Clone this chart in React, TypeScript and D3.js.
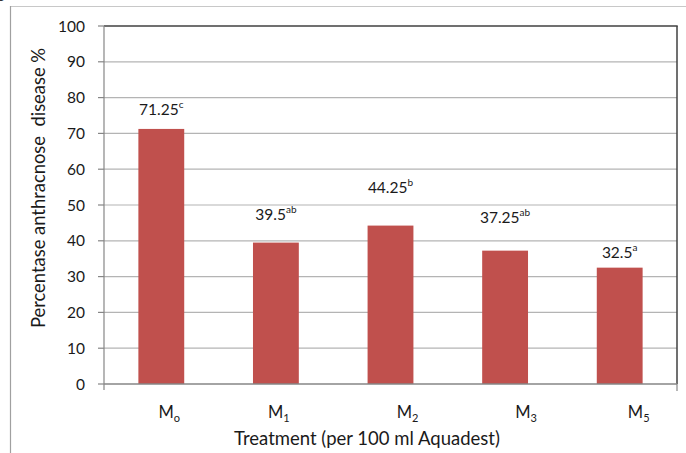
import React from "react";
import * as d3 from "d3";

const categories = ["M", "M", "M", "M", "M"];
const subscripts = ["o", "1", "2", "3", "5"];
const values = [71.25, 39.5, 44.25, 37.25, 32.5];
const valueText = ["71.25", "39.5", "44.25", "37.25", "32.5"];
const letters = ["c", "ab", "b", "ab", "a"];
const yTicks = [0, 10, 20, 30, 40, 50, 60, 70, 80, 90, 100];

// layout: manual label placement (in value units / pixel shifts)
const labelLevel = [75.1, 45.8, 53.4, 45.0, 35.2];
const catShift = [8, 3, 17, 21, 19];

const W = 686;
const H = 453;
const L = 104, R = 677, T = 26, B = 384;
const FONT = "Lato, 'Open Sans', sans-serif";

export default function App() {
  const idx = values.map((_, i) => String(i));
  const x = d3.scaleBand<string>().domain(idx).range([L, R]).paddingInner(0.6).paddingOuter(0.3);
  const y = d3.scaleLinear().domain([0, 100]).range([B, T]);
  const cx = (i: number) => (x(String(i)) as number) + x.bandwidth() / 2;

  return (
    <div style={{ position: "absolute", left: 0, top: 0 }}>
      <svg width={W} height={H} style={{ display: "block", background: "#fff" }} fontFamily={FONT}>
        <text x={-14} y={-1} fontSize={14} fill="#333">Figure 3.</text>
        {/* outer frame */}
        <line x1={11} x2={W} y1={6.5} y2={6.5} stroke="#c8c8c8" strokeWidth={1.2} />
        <line x1={10.5} x2={10.5} y1={6} y2={H} stroke="#a0a0a0" strokeWidth={1.2} />

        {/* gridlines */}
        {yTicks.filter((t) => t > 0 && t < 100).map((t) => (
          <line key={t} x1={L} x2={R} y1={y(t)} y2={y(t)} stroke="#b4b4b4" strokeWidth={1.2} />
        ))}
        {/* plot area border top/right */}
        <line x1={L} x2={R + 0.7} y1={T} y2={T} stroke="#404040" strokeWidth={1.5} />
        <line x1={R} x2={R} y1={T} y2={B} stroke="#404040" strokeWidth={1.5} />

        {/* bars */}
        {values.map((v, i) => (
          <rect key={i} x={x(String(i))} y={y(v)} width={x.bandwidth()} height={B - y(v)} fill="#C0504D" />
        ))}

        {/* axes */}
        <line x1={L} x2={L} y1={T} y2={B + 6} stroke="#868686" strokeWidth={1.2} />
        <line x1={L} x2={R} y1={B} y2={B} stroke="#868686" strokeWidth={1.5} />
        <line x1={R} x2={R} y1={B} y2={B + 7} stroke="#868686" strokeWidth={1.2} />
        {yTicks.map((t) => (
          <g key={t}>
            <line x1={L - 6} x2={L} y1={y(t)} y2={y(t)} stroke="#868686" strokeWidth={1.2} />
            <text x={85} y={y(t)} dy="0.36em" textAnchor="end" fontSize={15.5} fill="#1a1a1a">{t}</text>
          </g>
        ))}

        {/* value labels */}
        {values.map((v, i) => (
          <text key={i} x={cx(i)} y={y(labelLevel[i])} textAnchor="middle" fontSize={15.5} fill="#1a1a1a">
            {valueText[i]}
            <tspan fontSize={10} dy={-7}>{letters[i]}</tspan>
          </text>
        ))}

        {/* category labels */}
        {categories.map((c, i) => (
          <text key={i} x={cx(i) + catShift[i]} y={418} textAnchor="middle" fontSize={16.5} fill="#1a1a1a">
            {c}
            <tspan fontSize={11} dy={4}>{subscripts[i]}</tspan>
          </text>
        ))}

        {/* axis titles */}
        <text x={367} y={445} textAnchor="middle" fontSize={18.5} fill="#1a1a1a">Treatment (per 100 ml Aquadest)</text>
        <text transform={`translate(45,188) rotate(-90)`} textAnchor="middle" fontSize={18.4} fill="#1a1a1a" style={{ whiteSpace: "pre" }}>
          {"Percentase anthracnose  disease %"}
        </text>
      </svg>
    </div>
  );
}
